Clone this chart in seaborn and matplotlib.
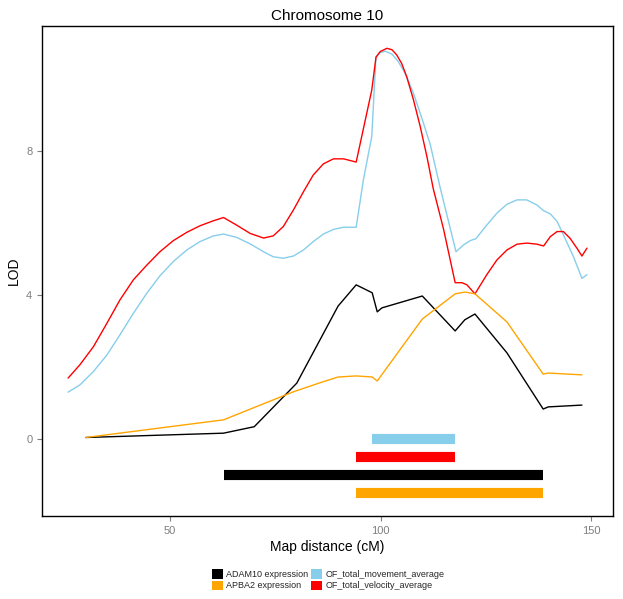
import matplotlib
matplotlib.use("Agg")
import matplotlib.pyplot as plt
import seaborn as sns
import pandas as pd
from matplotlib.patches import Patch

# ---- data ----
velocity_pos = [25.8, 28.6, 31.8, 35.0, 38.1, 41.3, 44.5, 47.6, 50.8, 54.0, 57.1, 60.3, 62.7,
                65.8, 69.0, 72.2, 74.5, 76.9, 79.3, 81.7, 84.0, 86.4, 88.8, 91.2, 94.2,
                97.9, 98.9, 99.9, 101.5, 102.7, 103.8, 105.0, 106.2, 107.8, 109.4, 111.0,
                112.5, 114.9, 117.7, 119.3, 120.5, 122.4, 125.2, 127.6, 130.0, 132.4, 134.7,
                137.1, 138.7, 140.3, 141.9, 143.4, 145.0, 146.6, 147.8, 149.0]
velocity_lod = [1.69, 2.06, 2.56, 3.21, 3.86, 4.42, 4.83, 5.20, 5.51, 5.74, 5.92, 6.06, 6.15,
                5.94, 5.71, 5.58, 5.64, 5.90, 6.36, 6.87, 7.33, 7.64, 7.78, 7.78, 7.69,
                9.69, 10.60, 10.76, 10.85, 10.81, 10.67, 10.43, 10.06, 9.42, 8.68, 7.84,
                6.95, 5.85, 4.34, 4.34, 4.28, 4.03, 4.56, 4.97, 5.25, 5.41, 5.44,
                5.41, 5.36, 5.62, 5.76, 5.76, 5.57, 5.30, 5.08, 5.30]

movement_pos = [25.8, 28.6, 31.8, 35.0, 38.1, 41.3, 44.5, 47.6, 50.8, 54.0, 57.1, 60.3, 62.7,
                65.8, 69.0, 72.2, 74.5, 76.9, 79.3, 81.7, 84.0, 86.4, 88.8, 91.2, 94.2,
                95.9, 97.9, 98.9, 99.9, 101.1, 102.7, 104.2, 105.8, 107.8, 109.8, 111.8,
                114.1, 117.9, 119.7, 121.3, 122.6, 125.2, 127.6, 130.0, 132.4, 134.7, 137.1,
                138.7, 140.3, 141.9, 143.4, 145.8, 147.8, 149.0]
movement_lod = [1.30, 1.50, 1.87, 2.33, 2.89, 3.49, 4.05, 4.53, 4.93, 5.25, 5.48, 5.64, 5.69,
                5.60, 5.42, 5.20, 5.06, 5.02, 5.08, 5.25, 5.48, 5.69, 5.82, 5.88, 5.88,
                7.19, 8.40, 10.62, 10.73, 10.77, 10.69, 10.48, 10.16, 9.60, 8.91, 8.17,
                7.00, 5.20, 5.39, 5.51, 5.56, 5.94, 6.27, 6.52, 6.64, 6.64, 6.50,
                6.34, 6.25, 6.04, 5.67, 5.06, 4.46, 4.56]

adam10_pos = [30.0, 62.7, 70.0, 80.1, 89.9, 94.2, 98.0, 99.2, 100.3, 109.9, 117.7, 120.0, 122.4,
              130.0, 138.6, 139.8, 147.8]
adam10_lod = [0.04, 0.16, 0.34, 1.55, 3.69, 4.28, 4.06, 3.53, 3.64, 3.97, 3.0, 3.31, 3.47, 2.39,
              0.83, 0.89, 0.94]

apba2_pos = [30.0, 62.7, 79.3, 85.6, 89.9, 94.2, 98.0, 99.2, 109.9, 117.7, 120.0, 122.4, 130.0,
             138.6, 139.8, 147.8]
apba2_lod = [0.04, 0.53, 1.31, 1.56, 1.72, 1.75, 1.72, 1.61, 3.33, 4.03, 4.08, 4.03, 3.25, 1.8,
             1.83, 1.78]

# confidence intervals (start, end, y level)
ci_names = ["OF_total_movement_average", "OF_total_velocity_average", "ADAM10 expression", "APBA2 expression"]
ci_start = [98.0, 94.2, 62.8, 94.2]
ci_end = [117.7, 117.7, 138.6, 138.6]
ci_level = [0.0, -0.5, -1.0, -1.5]

legend_order = ["ADAM10 expression", "APBA2 expression", "OF_total_movement_average", "OF_total_velocity_average"]
colors = {"ADAM10 expression": "#000000", "APBA2 expression": "#FFA500",
          "OF_total_movement_average": "#87CEEB", "OF_total_velocity_average": "#FF0000"}

frames = []
for name, xs, ys in [("OF_total_movement_average", movement_pos, movement_lod),
                     ("OF_total_velocity_average", velocity_pos, velocity_lod),
                     ("ADAM10 expression", adam10_pos, adam10_lod),
                     ("APBA2 expression", apba2_pos, apba2_lod)]:
    frames.append(pd.DataFrame({"pos": xs, "lod": ys, "trait": name}))
df = pd.concat(frames, ignore_index=True)

# ---- plot ----
sns.set_style("white")
plt.rcParams["font.family"] = ["Liberation Sans", "DejaVu Sans"]

fig = plt.figure(figsize=(6.23, 5.99), dpi=100)
ax = fig.add_axes([0.0674, 0.1386, 0.9167, 0.818])

sns.lineplot(data=df, x="pos", y="lod", hue="trait", palette=colors, sort=False,
             estimator=None, linewidth=1.0, legend=False, ax=ax)

for n, s, e, lv in zip(ci_names, ci_start, ci_end, ci_level):
    ax.hlines(lv, s, e, colors=colors[n], linewidth=7.3, capstyle="butt")

ax.set_xlim(19.6, 155.2)
ax.set_ylim(-2.14, 11.47)
ax.set_xticks([50, 100, 150])
ax.set_yticks([0, 4, 8])
ax.tick_params(axis="both", colors="#7f7f7f", labelsize=8, length=3.5, width=0.8,
               direction="out", left=True, bottom=True)
for sp in ax.spines.values():
    sp.set_visible(True)
    sp.set_color("black")
    sp.set_linewidth(1.0)

ax.set_xlabel("Map distance (cM)", fontsize=10, color="black", labelpad=3)
ax.set_ylabel("LOD", fontsize=10, color="black", labelpad=4)
ax.set_title("Chromosome 10", fontsize=11, color="black", pad=4)

handles = [Patch(facecolor=colors[n], edgecolor="none", label=n) for n in legend_order]
fig.legend(handles=handles, loc="center", bbox_to_anchor=(0.527, 0.032), ncol=2,
           frameon=False, fontsize=6.5, handlelength=1.2, handleheight=1.2,
           handletextpad=0.4, columnspacing=0.3, labelspacing=0.15)

fig.savefig("out.png", dpi=100)
